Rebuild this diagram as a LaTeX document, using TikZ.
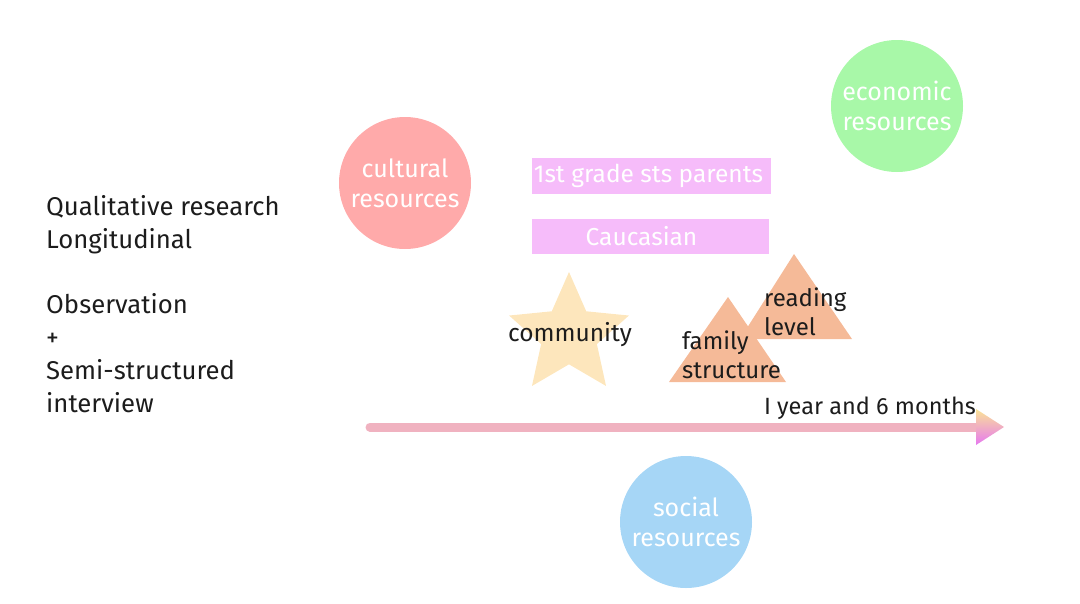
\documentclass[tikz,border=0pt]{standalone}
\usepackage{fontspec}
\setmainfont{Fira Sans}
\usetikzlibrary{shapes.geometric}
\definecolor{culturalpink}{RGB}{255,170,170}
\definecolor{econgreen}{RGB}{168,248,168}
\definecolor{socialblue}{RGB}{166,214,246}
\definecolor{bandpink}{RGB}{246,188,250}
\definecolor{starcream}{RGB}{253,230,188}
\definecolor{peach}{RGB}{245,186,152}
\definecolor{shaftpink}{RGB}{240,178,192}
\definecolor{headyellow}{RGB}{250,228,150}
\definecolor{headmagenta}{RGB}{230,120,240}
\definecolor{ink}{RGB}{28,28,28}
\begin{document}
\begin{tikzpicture}[x=1pt,y=-1pt,
  res/.style={circle, minimum size=132pt, inner sep=0pt, text=white,
    align=center, font=\fontsize{25}{30}\selectfont},
  band/.style={fill=bandpink, minimum width=239pt, minimum height=36pt,
    inner sep=0pt, text=white, font=\fontsize{24.5}{26}\selectfont},
  lbl/.style={text=ink, align=left, inner sep=0pt,
    font=\fontsize{24}{29}\selectfont},
  tri/.style={fill=peach}
]
\useasboundingbox (0,0) rectangle (1080,603);

% resource circles
\node[res, fill=culturalpink] (cultural) at (405,183) {cultural\\resources};
\node[res, fill=econgreen] (economic) at (897,106) {economic\\resources};
\node[res, fill=socialblue] (social) at (686,522) {social\\resources};

% participant bands
\node[band] (parents) at (651.5,176) {\hspace*{-6pt}1st grade sts parents};
\node[band, minimum width=237pt, minimum height=35pt] (caucasian) at (650.5,236.5) {\hspace*{-18pt}Caucasian};

% community star
\node[star, star points=5, star point ratio=2.15, minimum size=126pt,
  inner sep=0pt, fill=starcream] (star) at (569,335) {};
\node[text=ink, inner sep=0pt, font=\fontsize{24.5}{29}\selectfont] (community) at (570,335) {community};

% reading level and family structure triangles
\fill[tri] (794,254) -- (852,339) -- (740,339) -- cycle;
\fill[tri] (728,297) -- (786,382) -- (669,382) -- cycle;
\node[lbl, anchor=base west] (reading) at (764,335) {reading\\level};
\node[lbl, anchor=base west] (family) at (682,378) {family\\structure};

% timeline
\coordinate (tstart) at (370,427);
\coordinate (tend) at (980,427);
\draw[shaftpink, line width=9pt, line cap=round] (tstart) -- (tend);
\shade[top color=headyellow, bottom color=headmagenta]
  (976,409) -- (1004,427) -- (976,445) -- cycle;
\node[lbl, anchor=base east, font=\fontsize{23.5}{29}\selectfont] (duration) at (976,414) {I year and 6 months};

% method summary
\node[lbl, anchor=base west, font=\fontsize{25.7}{32.8}\selectfont] (method) at (46,412)
  {Qualitative research\\Longitudinal\\\mbox{}\\Observation\\+\\Semi-structured\\interview};
\end{tikzpicture}
\end{document}
